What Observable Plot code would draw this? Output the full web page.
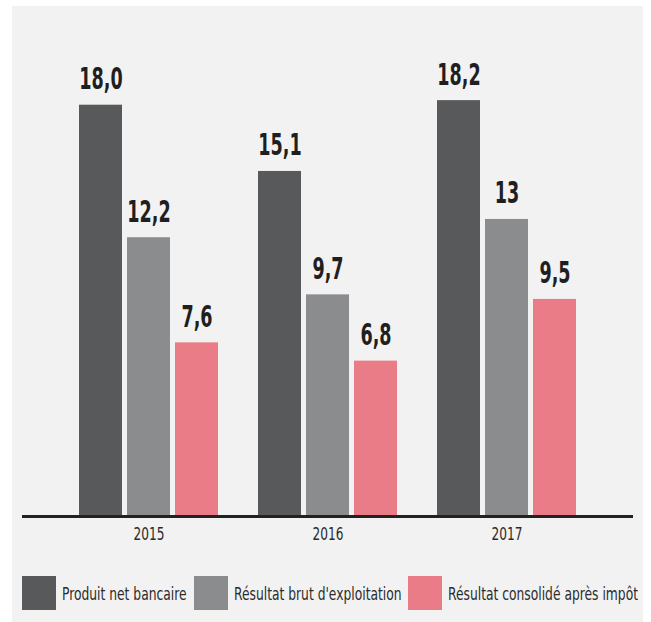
<!DOCTYPE html>
<html>
<head>
<meta charset="utf-8">
<script src="https://cdn.jsdelivr.net/npm/d3@7"></script>
<script src="https://cdn.jsdelivr.net/npm/@observablehq/plot@0.6"></script>
<style>
  html, body { margin: 0; padding: 0; background: #ffffff; }
  body { width: 651px; height: 622px; position: relative; overflow: hidden;
         font-family: "DejaVu Sans Condensed", sans-serif; }
  #panel { position: absolute; left: 12px; top: 6px; width: 631px; height: 616px; background: #f2f2f2; }
  #chart { position: absolute; left: 0; top: 0; }
  #legend { position: absolute; left: 22px; top: 576px; display: flex; align-items: center;
            font-size: 18px; color: #2b2b2b; white-space: nowrap; }
  #legend .sw { width: 34px; height: 34px; margin-right: 6px; flex: none; }
  #legend .item { display: flex; align-items: center; margin-right: 7px; }
  #legend .lab { display: inline-block; transform-origin: 0 50%; }
</style>
</head>
<body>
<div id="panel"></div>
<div id="chart"></div>
<div id="legend"></div>
<script>
const years = ["2015", "2016", "2017"];
const seriesNames = ["Produit net bancaire", "Résultat brut d'exploitation", "Résultat consolidé après impôt"];
const produitNetBancaire = [18.0, 15.1, 18.2];
const resultatBrutExploitation = [12.2, 9.7, 13];
const resultatConsolide = [7.6, 6.8, 9.5];
const labelsPNB = ["18,0", "15,1", "18,2"];
const labelsRBE = ["12,2", "9,7", "13"];
const labelsRC = ["7,6", "6,8", "9,5"];
const colors = ["#58595b", "#8b8c8e", "#e97c87"];

const seriesValues = [produitNetBancaire, resultatBrutExploitation, resultatConsolide];
const seriesLabels = [labelsPNB, labelsRBE, labelsRC];
const offsets = [-48, 0, 48];

const marks = [];
seriesNames.forEach((name, s) => {
  const rows = years.map((y, i) => ({year: y, value: seriesValues[s][i], label: seriesLabels[s][i], series: name}));
  marks.push(Plot.barY(rows, {x: "year", y: "value", fill: "series", dx: offsets[s]}));
  marks.push(Plot.text(rows, {x: "year", y: "value", text: "label", dx: offsets[s], dy: -16,
    lineAnchor: "bottom", fontSize: 31, fontWeight: "bold", fill: "#1f1f21",
    className: "vlabel",
    fontFamily: "'DejaVu Sans Condensed', sans-serif"}));
});
marks.push(Plot.ruleY([0], {stroke: "#222222", strokeWidth: 3}));

const chart = Plot.plot({
  width: 651,
  height: 560,
  marginLeft: 22,
  marginRight: 18,
  marginTop: 59,
  marginBottom: 44,
  style: {background: "transparent", fontFamily: "'DejaVu Sans Condensed', sans-serif"},
  x: {domain: years, paddingInner: 0.7598, paddingOuter: 0.5866, label: null, tickSize: 0, tickPadding: 11, fontSize: 18},
  y: {domain: [0, 20], axis: null},
  color: {domain: seriesNames, range: colors},
  marks
});
document.getElementById("chart").appendChild(chart);

function squeeze(t, f) {
  const w = t.getComputedTextLength();
  t.setAttribute("textLength", (w * f).toFixed(1));
  t.setAttribute("lengthAdjust", "spacingAndGlyphs");
}
chart.querySelectorAll(".vlabel text").forEach(t => squeeze(t, 0.63));
chart.querySelectorAll("g[aria-label='x-axis tick label'] text").forEach(t => {
  t.setAttribute("font-size", "18"); t.setAttribute("fill", "#2b2b2b");
  squeeze(t, 0.75);
});

const legend = document.getElementById("legend");
seriesNames.forEach((name, s) => {
  const item = document.createElement("div");
  item.className = "item";
  const sw = document.createElement("div");
  sw.className = "sw";
  sw.style.background = colors[s];
  const lab = document.createElement("span");
  lab.className = "lab";
  lab.textContent = name;
  item.appendChild(sw);
  item.appendChild(lab);
  legend.appendChild(item);
});
legend.querySelectorAll(".lab").forEach(l => {
  const w = l.getBoundingClientRect().width;
  const f = 0.76;
  l.style.transform = `scaleX(${f})`;
  l.style.marginRight = `${-(1 - f) * w}px`;
});
</script>
</body>
</html>
